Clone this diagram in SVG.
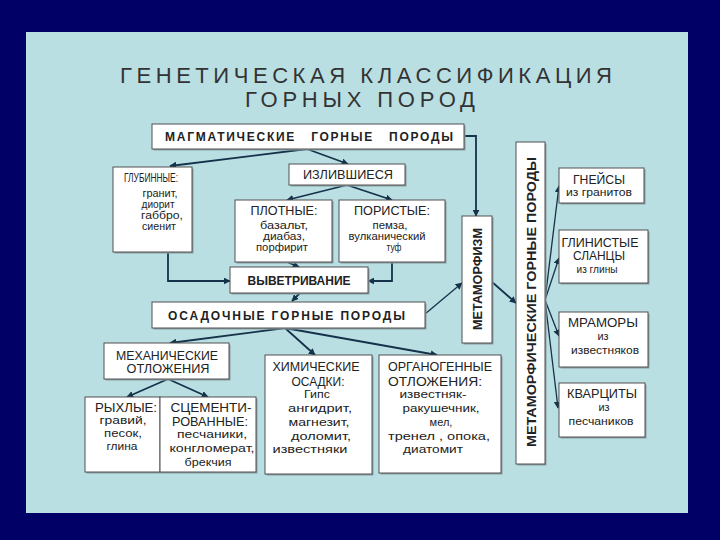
<svg xmlns="http://www.w3.org/2000/svg" width="720" height="540" viewBox="0 0 720 540">
<style>
  text { font-family: "Liberation Sans", Arial, sans-serif; fill: #222222; }
  .title { font-size: 22px; fill: #333333; }
  .h { font-size: 12px; }
  .b { font-size: 11px; }
  .bold { font-weight: bold; }
  .box { fill: #ffffff; stroke: #505050; stroke-width: 1; }
  .sh { fill: #8a9ea3; }
  .c { fill: none; stroke: #16324a; stroke-width: 1.8; }
  .t { fill: none; stroke: #16324a; stroke-width: 1.3; }
</style>
<defs>
  <marker id="ah" viewBox="0 0 10 10" refX="9" refY="5" markerWidth="7" markerHeight="7" markerUnits="userSpaceOnUse" orient="auto">
    <path d="M0,0 L10,5 L0,10 z" fill="#16324a"/>
  </marker>
</defs>
<rect x="0" y="0" width="720" height="540" fill="#000066"/>
<rect x="26" y="32" width="662" height="481" fill="#badfe3"/>

<g id="title">
  <text class="title" x="120" y="83" textLength="492" lengthAdjust="spacing">ГЕНЕТИЧЕСКАЯ КЛАССИФИКАЦИЯ</text>
  <text class="title" x="245" y="107" textLength="230" lengthAdjust="spacing">ГОРНЫХ ПОРОД</text>
</g>

<g id="connectors">
  <path class="c" d="M307,149 L170,166" marker-end="url(#ah)"/>
  <path class="c" d="M307,149 L348,164" marker-end="url(#ah)"/>
  <path class="c" d="M347,185 L287,200" marker-end="url(#ah)"/>
  <path class="c" d="M347,185 L392,200" marker-end="url(#ah)"/>
  <path class="c" d="M464,136 L476,136 L476,216" marker-end="url(#ah)"/>
  <path class="c" d="M168,252 L168,281 L230,281" marker-end="url(#ah)"/>
  <path class="c" d="M287,262 L299,267" marker-end="url(#ah)"/>
  <path class="c" d="M392,262 L392,281 L368,281" marker-end="url(#ah)"/>
  <path class="c" d="M300,293 L292,301" marker-end="url(#ah)"/>
  <path class="t" d="M425,314 L462,283" marker-end="url(#ah)"/>
  <path class="c" d="M285,328 L170,343" marker-end="url(#ah)"/>
  <path class="c" d="M285,328 L315,355" marker-end="url(#ah)"/>
  <path class="c" d="M285,328 L437,355" marker-end="url(#ah)"/>
  <path class="c" d="M168,379 L127,397" marker-end="url(#ah)"/>
  <path class="c" d="M168,379 L208,397" marker-end="url(#ah)"/>
  <path class="c" d="M492,282 L516,303" stroke-width="2.4" marker-end="url(#ah)"/>
  <path class="t" d="M545,300 L559,186" marker-end="url(#ah)"/>
  <path class="t" d="M545,300 L559,258" marker-end="url(#ah)"/>
  <path class="t" d="M545,300 L559,336" marker-end="url(#ah)"/>
  <path class="t" d="M545,300 L558,408" marker-end="url(#ah)"/>
</g>

<g id="magmatic">
  <rect class="sh" x="153.5" y="125.5" width="312" height="25"/>
  <rect class="box" x="152" y="124" width="312" height="25"/>
  <text class="h bold" x="165" y="141" textLength="288" lengthAdjust="spacing" word-spacing="10">МАГМАТИЧЕСКИЕ ГОРНЫЕ ПОРОДЫ</text>
</g>

<g id="glubinnye">
  <rect class="sh" x="114.5" y="168.5" width="79" height="85"/>
  <rect class="box" x="113" y="167" width="79" height="85"/>
  <text class="h" x="151" y="182" text-anchor="middle" textLength="54" lengthAdjust="spacingAndGlyphs">ГЛУБИННЫЕ:</text>
  <text class="b" x="160" y="197" text-anchor="middle" textLength="35" lengthAdjust="spacingAndGlyphs">гранит,</text>
  <text class="b" x="158" y="208" text-anchor="middle" textLength="33" lengthAdjust="spacingAndGlyphs">диорит</text>
  <text class="b" x="162" y="219" text-anchor="middle" textLength="42" lengthAdjust="spacingAndGlyphs">габбро,</text>
  <text class="b" x="159" y="230" text-anchor="middle" textLength="34" lengthAdjust="spacingAndGlyphs">сиенит</text>
</g>

<g id="izlivshiesya">
  <rect class="sh" x="290.5" y="165.5" width="116" height="21"/>
  <rect class="box" x="289" y="164" width="116" height="21"/>
  <text class="h" x="348" y="179" text-anchor="middle" textLength="90" lengthAdjust="spacingAndGlyphs">ИЗЛИВШИЕСЯ</text>
</g>

<g id="plotnye">
  <rect class="sh" x="236.5" y="201.5" width="97" height="62"/>
  <rect class="box" x="235" y="200" width="97" height="62"/>
  <text class="h" x="284" y="215" text-anchor="middle" textLength="67" lengthAdjust="spacingAndGlyphs">ПЛОТНЫЕ:</text>
  <text class="b" x="284" y="229" text-anchor="middle" textLength="48" lengthAdjust="spacingAndGlyphs">базальт,</text>
  <text class="b" x="284" y="240" text-anchor="middle" textLength="42" lengthAdjust="spacingAndGlyphs">диабаз,</text>
  <text class="b" x="282" y="251" text-anchor="middle" textLength="52" lengthAdjust="spacingAndGlyphs">порфирит</text>
</g>

<g id="poristye">
  <rect class="sh" x="340.5" y="201.5" width="106" height="62"/>
  <rect class="box" x="339" y="200" width="106" height="62"/>
  <text class="h" x="392" y="215" text-anchor="middle" textLength="76" lengthAdjust="spacingAndGlyphs">ПОРИСТЫЕ:</text>
  <text class="b" x="390" y="229" text-anchor="middle" textLength="35" lengthAdjust="spacingAndGlyphs">пемза,</text>
  <text class="b" x="387" y="240" text-anchor="middle" textLength="77" lengthAdjust="spacingAndGlyphs">вулканический</text>
  <text class="b" x="394" y="251" text-anchor="middle" textLength="15" lengthAdjust="spacingAndGlyphs">туф</text>
</g>

<g id="vyvetrivanie">
  <rect class="sh" x="231.5" y="268.5" width="138" height="26"/>
  <rect class="box" x="230" y="267" width="138" height="26"/>
  <text class="h bold" x="299" y="285" text-anchor="middle" textLength="103" lengthAdjust="spacingAndGlyphs">ВЫВЕТРИВАНИЕ</text>
</g>

<g id="osadochnye">
  <rect class="sh" x="153.5" y="303.5" width="273" height="26"/>
  <rect class="box" x="152" y="302" width="273" height="26"/>
  <text class="h bold" x="168" y="320" font-size="13" textLength="237" lengthAdjust="spacing">ОСАДОЧНЫЕ ГОРНЫЕ ПОРОДЫ</text>
</g>

<g id="mekhanicheskie">
  <rect class="sh" x="105.5" y="344.5" width="125" height="36"/>
  <rect class="box" x="104" y="343" width="125" height="36"/>
  <text class="h" x="167" y="360" text-anchor="middle" textLength="102" lengthAdjust="spacingAndGlyphs">МЕХАНИЧЕСКИЕ</text>
  <text class="h" x="168" y="373" text-anchor="middle" textLength="83" lengthAdjust="spacingAndGlyphs">ОТЛОЖЕНИЯ</text>
</g>

<g id="rykhlye">
  <rect class="sh" x="86.5" y="398.5" width="171" height="75"/>
  <rect class="box" x="85" y="397" width="75" height="75"/>
  <text class="h" x="126" y="412" text-anchor="middle" textLength="62" lengthAdjust="spacingAndGlyphs">РЫХЛЫЕ:</text>
  <text class="b" x="123" y="424" text-anchor="middle" textLength="47" lengthAdjust="spacingAndGlyphs">гравий,</text>
  <text class="b" x="123" y="437" text-anchor="middle" textLength="38" lengthAdjust="spacingAndGlyphs">песок,</text>
  <text class="b" x="122" y="450" text-anchor="middle" textLength="31" lengthAdjust="spacingAndGlyphs">глина</text>
</g>

<g id="scementirovannye">
  <rect class="box" x="160" y="397" width="96" height="75"/>
  <text class="h" x="211" y="412" text-anchor="middle" textLength="81" lengthAdjust="spacingAndGlyphs">СЦЕМЕНТИ-</text>
  <text class="h" x="210" y="426" text-anchor="middle" textLength="76" lengthAdjust="spacingAndGlyphs">РОВАННЫЕ:</text>
  <text class="b" x="212" y="438" text-anchor="middle" textLength="70" lengthAdjust="spacingAndGlyphs">песчаники,</text>
  <text class="b" x="212" y="452" text-anchor="middle" textLength="85" lengthAdjust="spacingAndGlyphs">конгломерат,</text>
  <text class="b" x="208" y="466" text-anchor="middle" textLength="47" lengthAdjust="spacingAndGlyphs">брекчия</text>
</g>

<g id="khimicheskie">
  <rect class="sh" x="266.5" y="356.5" width="107" height="119"/>
  <rect class="box" x="265" y="355" width="107" height="119"/>
  <text class="h" x="316" y="371" text-anchor="middle" textLength="87" lengthAdjust="spacingAndGlyphs">ХИМИЧЕСКИЕ</text>
  <text class="h" x="318" y="386" text-anchor="middle" textLength="53" lengthAdjust="spacingAndGlyphs">ОСАДКИ:</text>
  <text class="b" x="317" y="398" text-anchor="middle" textLength="26" lengthAdjust="spacingAndGlyphs">Гипс</text>
  <text class="b" x="320" y="412" text-anchor="middle" textLength="64" lengthAdjust="spacingAndGlyphs">ангидрит,</text>
  <text class="b" x="319" y="426" text-anchor="middle" textLength="61" lengthAdjust="spacingAndGlyphs">магнезит,</text>
  <text class="b" x="321" y="440" text-anchor="middle" textLength="60" lengthAdjust="spacingAndGlyphs">доломит,</text>
  <text class="b" x="310" y="453" text-anchor="middle" textLength="75" lengthAdjust="spacingAndGlyphs">известняки</text>
</g>

<g id="organogennye">
  <rect class="sh" x="380.5" y="356.5" width="122" height="118"/>
  <rect class="box" x="379" y="355" width="122" height="118"/>
  <text class="h" x="440" y="371" text-anchor="middle" textLength="104" lengthAdjust="spacingAndGlyphs">ОРГАНОГЕННЫЕ</text>
  <text class="h" x="435" y="386" text-anchor="middle" textLength="94" lengthAdjust="spacingAndGlyphs">ОТЛОЖЕНИЯ:</text>
  <text class="b" x="433" y="398" text-anchor="middle" textLength="67" lengthAdjust="spacingAndGlyphs">известняк-</text>
  <text class="b" x="441" y="412" text-anchor="middle" textLength="77" lengthAdjust="spacingAndGlyphs">ракушечник,</text>
  <text class="b" x="441" y="426" text-anchor="middle">мел,</text>
  <text class="b" x="439" y="440" text-anchor="middle" textLength="102" lengthAdjust="spacingAndGlyphs">тренел , опока,</text>
  <text class="b" x="433" y="453" text-anchor="middle" textLength="60" lengthAdjust="spacingAndGlyphs">диатомит</text>
</g>

<g id="metamorfizm">
  <rect class="sh" x="463.5" y="217.5" width="30" height="127"/>
  <rect class="box" x="462" y="216" width="30" height="127"/>
  <text class="h bold" transform="translate(482,279) rotate(-90)" text-anchor="middle" font-size="13" textLength="102" lengthAdjust="spacingAndGlyphs">МЕТАМОРФИЗМ</text>
</g>

<g id="metamorficheskie">
  <rect class="sh" x="517.5" y="143.5" width="29" height="322"/>
  <rect class="box" x="516" y="142" width="29" height="322"/>
  <text class="h bold" transform="translate(536,302) rotate(-90)" text-anchor="middle" font-size="15" textLength="290" lengthAdjust="spacingAndGlyphs">МЕТАМОРФИЧЕСКИЕ ГОРНЫЕ ПОРОДЫ</text>
</g>

<g id="gneisy">
  <rect class="sh" x="560.5" y="169.5" width="85" height="35"/>
  <rect class="box" x="559" y="168" width="85" height="35"/>
  <text class="h" x="599" y="184" text-anchor="middle" textLength="52" lengthAdjust="spacingAndGlyphs">ГНЕЙСЫ</text>
  <text class="b" x="599" y="196" text-anchor="middle" font-size="10" textLength="66" lengthAdjust="spacingAndGlyphs">из гранитов</text>
</g>

<g id="glinistye">
  <rect class="sh" x="560.5" y="231.5" width="89" height="53"/>
  <rect class="box" x="559" y="230" width="89" height="53"/>
  <text class="h" x="600" y="247" text-anchor="middle" textLength="77" lengthAdjust="spacingAndGlyphs">ГЛИНИСТЫЕ</text>
  <text class="h" x="599" y="260" text-anchor="middle" textLength="52" lengthAdjust="spacingAndGlyphs">СЛАНЦЫ</text>
  <text class="b" x="597" y="273" text-anchor="middle" font-size="10" textLength="41" lengthAdjust="spacingAndGlyphs">из глины</text>
</g>

<g id="mramory">
  <rect class="sh" x="560.5" y="313.5" width="89" height="55"/>
  <rect class="box" x="559" y="312" width="89" height="55"/>
  <text class="h" x="603" y="327" text-anchor="middle" textLength="70" lengthAdjust="spacingAndGlyphs">МРАМОРЫ</text>
  <text class="b" x="603" y="340" text-anchor="middle" font-size="10">из</text>
  <text class="b" x="605" y="354" text-anchor="middle" font-size="10" textLength="68" lengthAdjust="spacingAndGlyphs">известняков</text>
</g>

<g id="kvartsity">
  <rect class="sh" x="560.5" y="384.5" width="86" height="54"/>
  <rect class="box" x="559" y="383" width="86" height="54"/>
  <text class="h" x="602" y="398" text-anchor="middle" textLength="70" lengthAdjust="spacingAndGlyphs">КВАРЦИТЫ</text>
  <text class="b" x="604" y="411" text-anchor="middle" font-size="10">из</text>
  <text class="b" x="601" y="425" text-anchor="middle" font-size="10" textLength="65" lengthAdjust="spacingAndGlyphs">песчаников</text>
</g>
</svg>
